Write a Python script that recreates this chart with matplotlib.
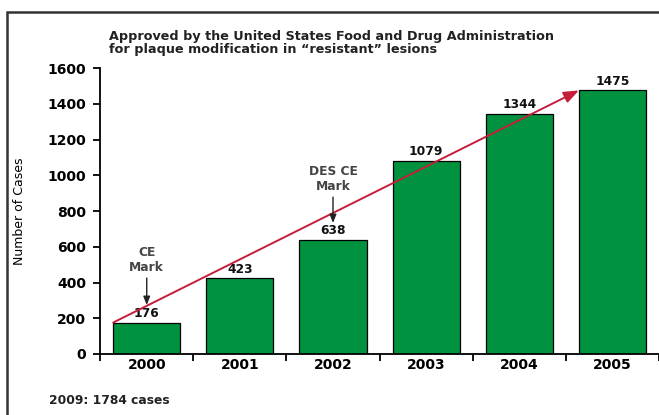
import matplotlib.pyplot as plt
from matplotlib.patches import Rectangle

years = ['2000', '2001', '2002', '2003', '2004', '2005']
cases = [176, 423, 638, 1079, 1344, 1475]
y_ticks = [0, 200, 400, 600, 800, 1000, 1200, 1400, 1600]

plt.rcParams['font.family'] = ['DejaVu Sans']

fig = plt.figure(figsize=(6.59, 4.15), dpi=100, facecolor='white')
ax = fig.add_axes([0.152, 0.147, 0.848, 0.689])

x = list(range(len(years)))
bw = 0.72
ax.bar(x, cases, width=bw, color='#00923f', edgecolor='black', linewidth=0.9, zorder=2)

for xi, v in zip(x, cases):
    ax.annotate(str(v), (xi, v), xytext=(0, 2), textcoords='offset points',
                ha='center', va='bottom', fontsize=8.8, fontweight='bold', color='#111111')

# trend arrow from first bar corner to last bar corner
ax.annotate('', xy=(x[-1] - bw / 2, cases[-1]), xytext=(x[0] - bw / 2, cases[0]),
            arrowprops=dict(arrowstyle='-|>,head_length=0.9,head_width=0.35',
                            color='#c41e3a', lw=1.4, shrinkA=0, shrinkB=0), zorder=3)

# milestone arrows
ax.annotate('', xy=(0, 274), xytext=(0, 425),
            arrowprops=dict(arrowstyle='-|>,head_length=0.5,head_width=0.2',
                            color='#222222', lw=1.0, shrinkA=0, shrinkB=0))
ax.text(0, 450, 'CE\nMark', ha='center', va='bottom', fontsize=8.8, fontweight='bold',
        color='#444444', linespacing=1.2)
ax.annotate('', xy=(2, 733), xytext=(2, 878),
            arrowprops=dict(arrowstyle='-|>,head_length=0.5,head_width=0.2',
                            color='#222222', lw=1.0, shrinkA=0, shrinkB=0))
ax.text(2, 900, 'DES CE\nMark', ha='center', va='bottom', fontsize=8.8, fontweight='bold',
        color='#444444', linespacing=1.2)

ax.set_xlim(-0.5, 5.46)
ax.set_ylim(0, 1600)
ax.set_yticks(y_ticks)
ax.set_yticklabels([str(t) for t in y_ticks], fontsize=10, fontweight='bold')
ax.set_xticks(x)
ax.set_xticklabels(years, fontsize=10, fontweight='bold')
ax.set_xticks([i - 0.5 for i in range(len(years) + 1)], minor=True)
ax.tick_params(axis='x', which='major', length=0, pad=3)
ax.tick_params(axis='x', which='minor', length=5, width=1.3, direction='out')
ax.tick_params(axis='y', length=5, width=1.3, direction='out', pad=5)
for s in ['top', 'right']:
    ax.spines[s].set_visible(False)
ax.spines['left'].set_linewidth(1.3)
ax.spines['bottom'].set_linewidth(1.3)
ax.spines['bottom'].set_bounds(-0.5, 5.6)

ax.set_ylabel('Number of Cases', fontsize=9, labelpad=0)
ax.yaxis.set_label_coords(-0.132, 0.5, transform=ax.transAxes)

fig.text(0.165, 0.913, 'Approved by the United States Food and Drug Administration',
         fontsize=9.2, fontweight='bold', color='#222222', va='center')
fig.text(0.165, 0.881, 'for plaque modification in \u201cresistant\u201d lesions',
         fontsize=9.2, fontweight='bold', color='#222222', va='center')
fig.text(0.074, 0.036, '2009: 1784 cases', fontsize=8.8, fontweight='bold',
         color='#222222', va='center')

# outer frame (right and bottom edges fall outside the picture)
fig.patches.append(Rectangle((0.011, -0.1), 1.2, 1.07, transform=fig.transFigure,
                             fill=False, edgecolor='#333333', linewidth=1.8))

fig.savefig('out.png', dpi=100)
